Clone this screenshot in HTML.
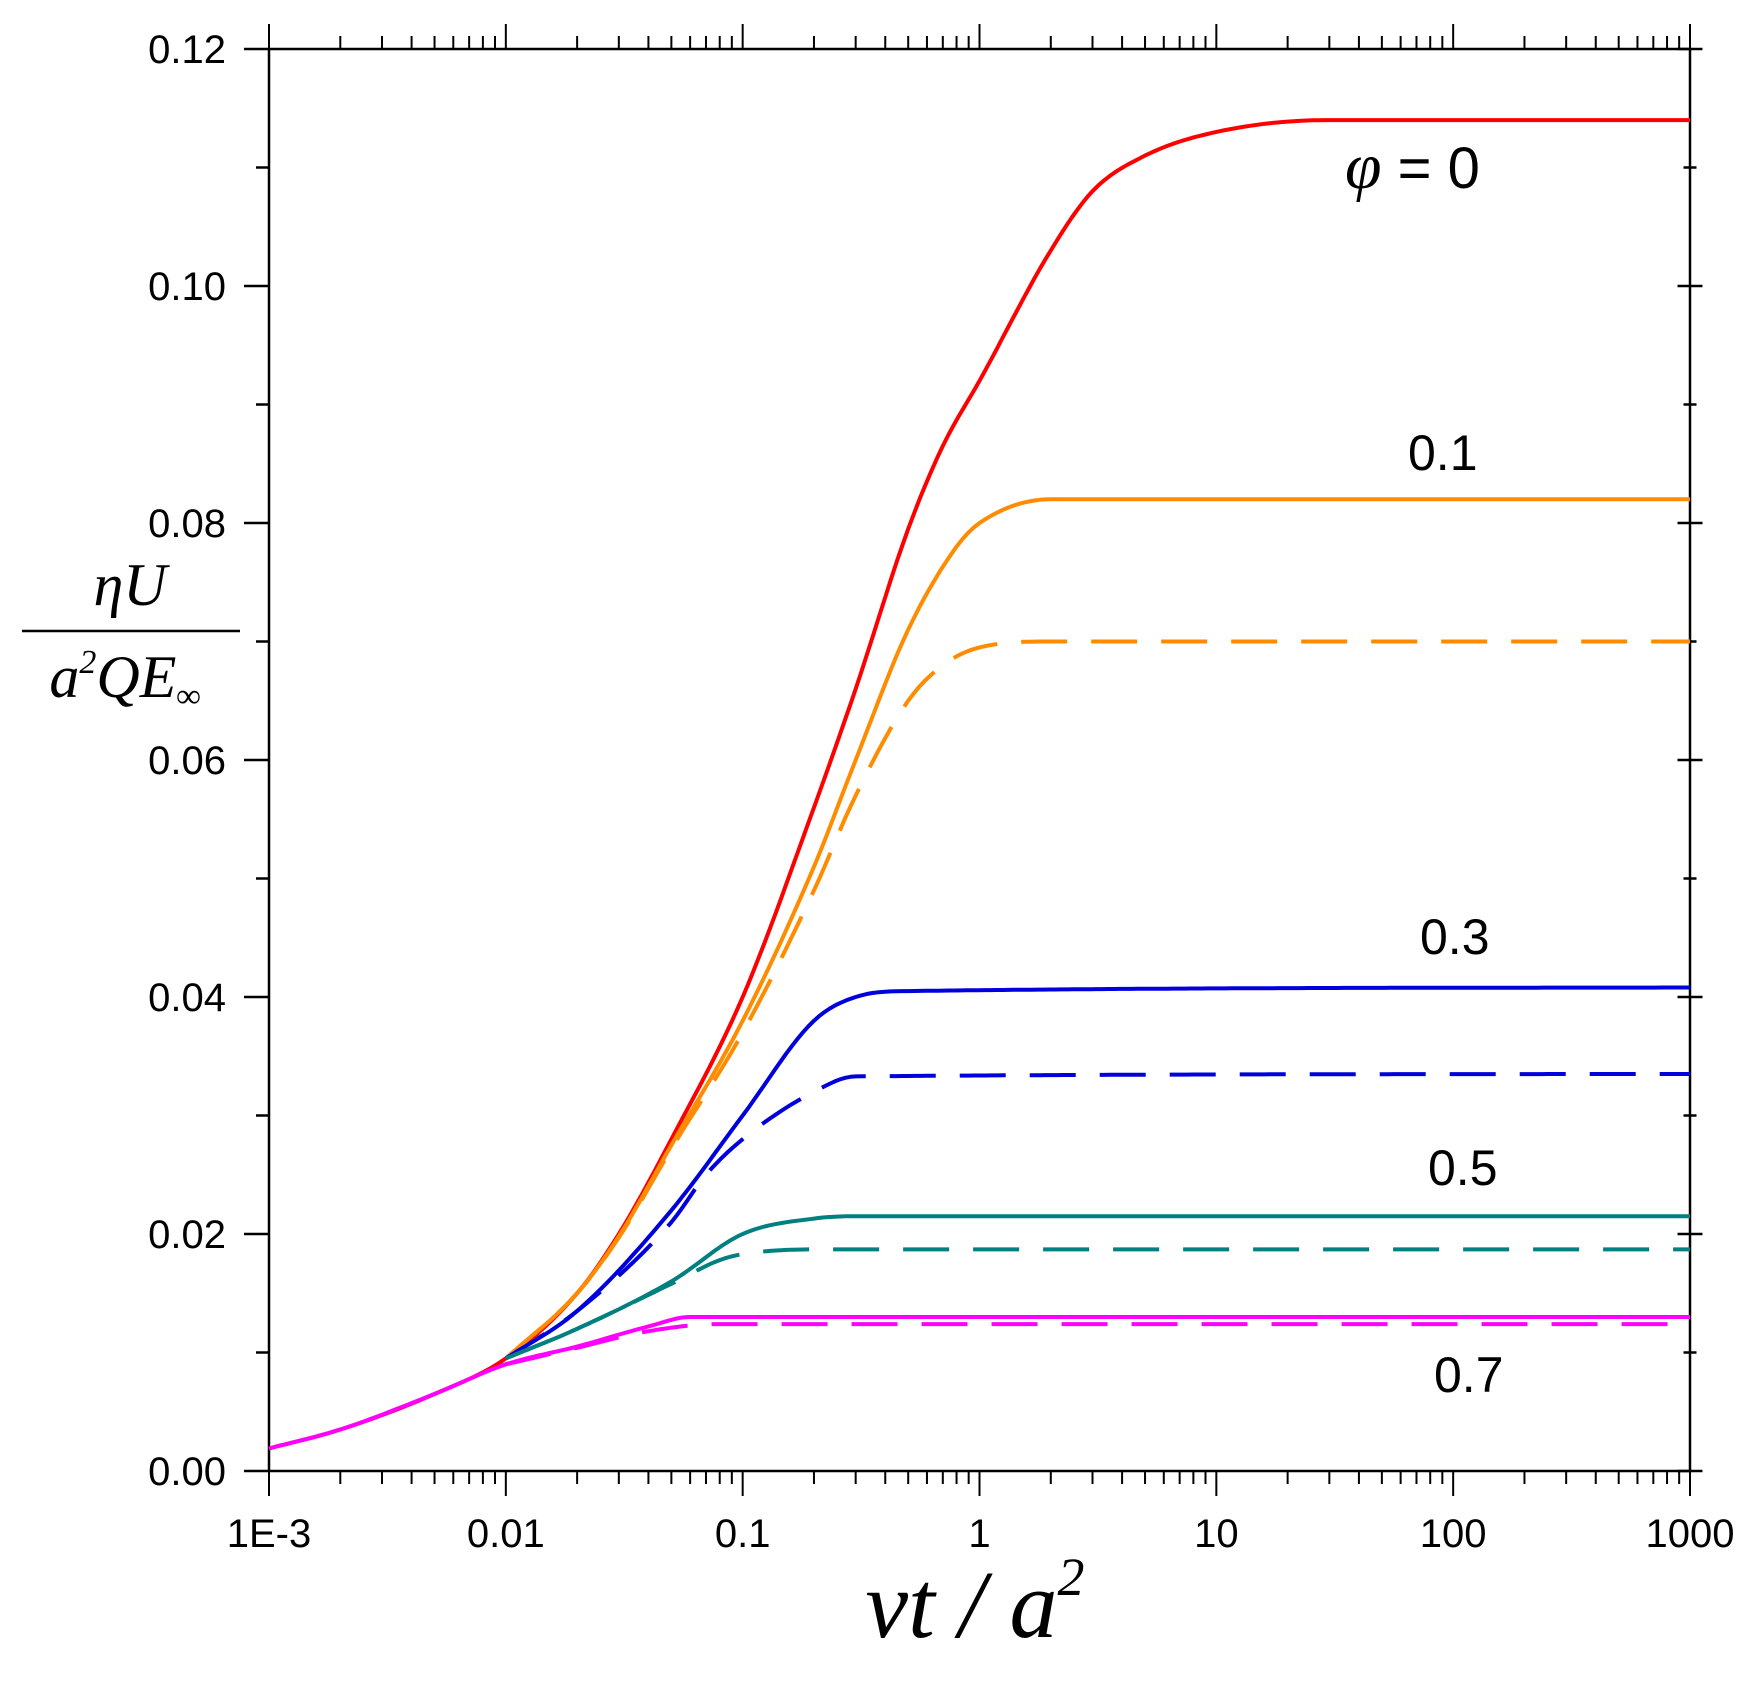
<!DOCTYPE html>
<html><head><meta charset="utf-8"><style>
html,body{margin:0;padding:0;background:#fff;}
svg{display:block;}
text{font-family:"Liberation Sans",sans-serif;}
.serif{font-family:"Liberation Serif",serif;font-style:italic;}
</style></head><body>
<svg id="chart" width="1757" height="1683" viewBox="0 0 1757 1683" xmlns="http://www.w3.org/2000/svg">
<g id="axes"></g>
<g id="series"></g>
<g id="labels">
<text x="1345" y="188" font-size="58"><tspan class="serif" font-size="66">φ</tspan> = 0</text>
<text x="1408" y="470" font-size="50">0.1</text>
<text x="1420" y="954" font-size="50">0.3</text>
<text x="1428" y="1185" font-size="50">0.5</text>
<text x="1434" y="1392" font-size="50">0.7</text>
<g>
<text class="serif" x="130" y="605" font-size="60" text-anchor="middle">ηU</text>
<line x1="22" y1="631" x2="240" y2="631" stroke="#000" stroke-width="2.5"/>
<text class="serif" x="125" y="697" font-size="60" text-anchor="middle">a<tspan font-size="34" dy="-24">2</tspan><tspan dy="24">QE</tspan><tspan font-size="34" dy="10">∞</tspan></text>
</g>
<text class="serif" x="975" y="1637" font-size="96" text-anchor="middle">νt / a<tspan font-size="54" dy="-42">2</tspan></text>
</g>
</svg>
<script>
const xTicks=[0.001,0.01,0.1,1,10,100,1000];
const xTickLabels=["1E-3","0.01","0.1","1","10","100","1000"];
const yTicks=[0,0.02,0.04,0.06,0.08,0.10,0.12];
const yTickLabels=["0.00","0.02","0.04","0.06","0.08","0.10","0.12"];

const redX=[0.001,0.002,0.005,0.01,0.02,0.03,0.05,0.1,0.2,0.3,0.5,0.7,1,2,3,5,10,30,1000];
const redY=[0.0019,0.0035,0.0065,0.0095,0.015,0.020,0.028,0.040,0.056,0.066,0.0795,0.0865,0.092,0.103,0.108,0.111,0.113,0.114,0.114];
const orangeX=[0.01,0.02,0.03,0.05,0.1,0.2,0.3,0.5,0.8,1,2,1000];
const orangeY=[0.0095,0.015,0.0198,0.0275,0.038,0.051,0.060,0.071,0.078,0.080,0.082,0.082];
const orangeDashX=[0.01,0.02,0.03,0.05,0.1,0.2,0.3,0.5,0.7,1,2,1000];
const orangeDashY=[0.0095,0.015,0.0197,0.0272,0.037,0.049,0.057,0.065,0.068,0.0695,0.070,0.070];
const blueX=[0.01,0.02,0.05,0.1,0.2,0.3,0.5,1000];
const blueY=[0.0095,0.0135,0.022,0.030,0.038,0.040,0.0405,0.0408];
const blueDashX=[0.01,0.02,0.05,0.07,0.1,0.2,0.3,1000];
const blueDashY=[0.0095,0.0135,0.021,0.025,0.028,0.032,0.0333,0.0335];
const tealX=[0.01,0.02,0.05,0.1,0.2,0.3,1000];
const tealY=[0.0095,0.012,0.016,0.020,0.0213,0.0215,0.0215];
const tealDashX=[0.01,0.02,0.05,0.08,0.1,0.2,1000];
const tealDashY=[0.0095,0.012,0.0158,0.0178,0.0183,0.0187,0.0187];
const magX=[0.001,0.002,0.005,0.01,0.02,0.04,0.06,1000];
const magY=[0.0019,0.0035,0.0065,0.009,0.0105,0.0122,0.013,0.013];
const magDashX=[0.01,0.02,0.04,0.08,1000];
const magDashY=[0.009,0.0104,0.0118,0.0124,0.0124];

const L=269,R=1690,T=49,B=1471;
const xs=v=>L+(Math.log10(v)+3)/6*(R-L);
const ys=v=>B-v/0.12*(B-T);
const NS="http://www.w3.org/2000/svg";
function mk(tag,attrs,parent){const e=document.createElementNS(NS,tag);for(const k in attrs)e.setAttribute(k,attrs[k]);parent.appendChild(e);return e;}
const axes=document.getElementById('axes');

const fr=mk('rect',{x:L,y:T,width:R-L,height:B-T,fill:'none',stroke:'#000','stroke-width':2.5},axes);


for(let d=-3;d<=3;d++){
  for(let m=1;m<=9;m++){
    if(d===3&&m>1)break;
    const v=m*Math.pow(10,d);const x=xs(v);const len=m===1?25:13;
    const t1=mk('line',{x1:x,y1:B,x2:x,y2:B+len,stroke:'#000','stroke-width':2},axes);
    
    
    const t2=mk('line',{x1:x,y1:T,x2:x,y2:T-len,stroke:'#000','stroke-width':2},axes);
    
    
  }
}
xTicks.forEach((v,i)=>{
  const t=mk('text',{x:xs(v),y:1547,'font-size':40,'text-anchor':'middle'},axes);
  t.textContent=xTickLabels[i];
  
  
});
for(let k=0;k<=12;k++){
  const v=k*0.01;const y=ys(v);const major=k%2===0;const len=major?25:13;
  const t1=mk('line',{x1:L,y1:y,x2:L-len,y2:y,stroke:'#000','stroke-width':2.5},axes);
  
  
  const t2=mk('line',{x1:R-len/2,y1:y,x2:R+len/2,y2:y,stroke:'#000','stroke-width':2.5},axes);
  
  
}
yTicks.forEach((v,i)=>{
  const t=mk('text',{x:226,y:ys(v)+14,'font-size':40,'text-anchor':'end'},axes);
  t.textContent=yTickLabels[i];
  
  
});

function pathFor(X,Y){
  const lx=X.map(v=>Math.log10(v)),n=lx.length;
  const dk=[],m=new Array(n);
  for(let i=0;i<n-1;i++)dk.push((Y[i+1]-Y[i])/(lx[i+1]-lx[i]));
  m[0]=dk[0];m[n-1]=dk[n-2];
  for(let i=1;i<n-1;i++)m[i]=(dk[i-1]*dk[i]<=0)?0:(dk[i-1]+dk[i])/2;
  for(let i=0;i<n-1;i++){
    if(dk[i]===0){m[i]=0;m[i+1]=0;continue;}
    const a=m[i]/dk[i],b=m[i+1]/dk[i],s=a*a+b*b;
    if(s>9){const t=3/Math.sqrt(s);m[i]=t*a*dk[i];m[i+1]=t*b*dk[i];}
  }
  let d='';
  for(let i=0;i<n-1;i++){
    const h=lx[i+1]-lx[i],steps=Math.max(4,Math.ceil(h*40));
    for(let s=(i===0?0:1);s<=steps;s++){
      const t=s/steps,t2=t*t,t3=t2*t;
      const y=(2*t3-3*t2+1)*Y[i]+(t3-2*t2+t)*h*m[i]+(-2*t3+3*t2)*Y[i+1]+(t3-t2)*h*m[i+1];
      const px=L+(lx[i]+t*h+3)/6*(R-L),py=ys(y);
      d+=(d?' L':'M')+px.toFixed(1)+','+py.toFixed(1);
    }
  }
  return d;
}
const ser=document.getElementById('series');
function draw(X,Y,color,dash,name){
  const a={d:pathFor(X,Y),fill:'none',stroke:color,'stroke-width':4,'stroke-linejoin':'round'};
  if(dash)a['stroke-dasharray']='46,24';
  const e=mk('path',a,ser);
  
  
}
draw(magDashX,magDashY,'#ff00ff',true,'line-phi-0-7-dashed');
draw(tealDashX,tealDashY,'#008080',true,'line-phi-0-5-dashed');
draw(blueDashX,blueDashY,'#0000dd',true,'line-phi-0-3-dashed');
draw(orangeDashX,orangeDashY,'#ff8c00',true,'line-phi-0-1-dashed');
draw(redX,redY,'#ff0000',false,'line-phi-0');
draw(orangeX,orangeY,'#ff8c00',false,'line-phi-0-1');
draw(blueX,blueY,'#0000dd',false,'line-phi-0-3');
draw(tealX,tealY,'#008080',false,'line-phi-0-5');
draw(magX,magY,'#ff00ff',false,'line-phi-0-7');
</script>
</body></html>
